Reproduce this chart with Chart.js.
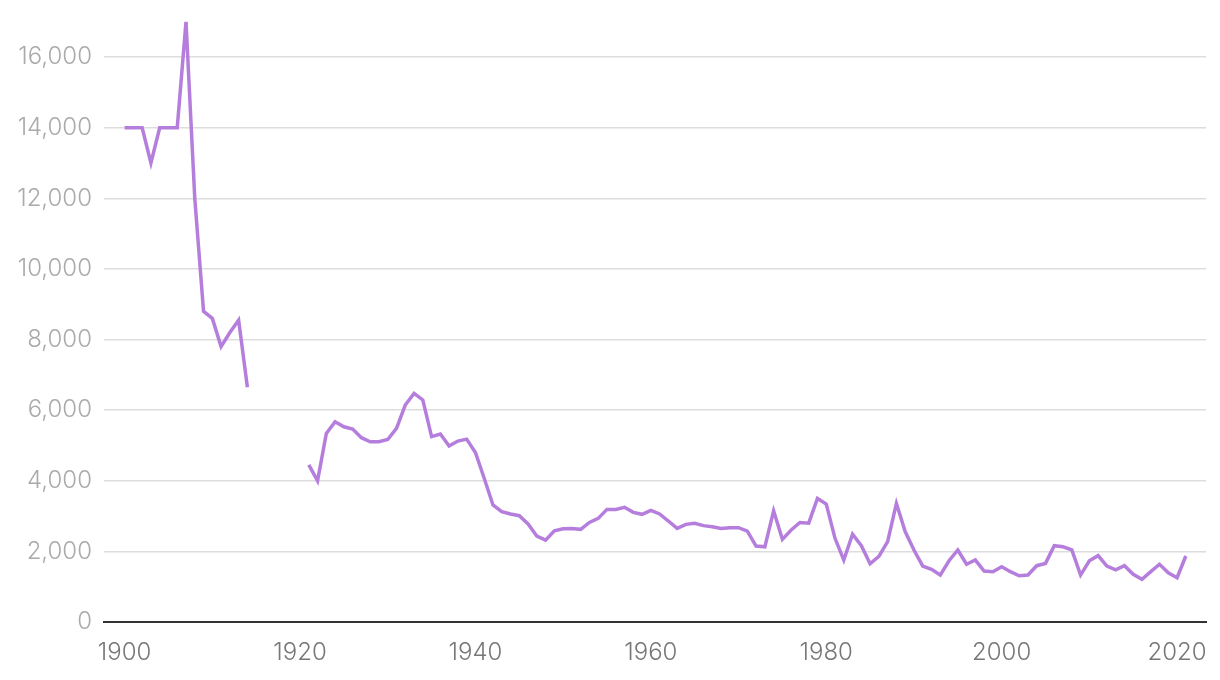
<!DOCTYPE html>
<html>
<head>
<meta charset="utf-8">
<script src="https://cdn.jsdelivr.net/npm/chart.js@4/dist/chart.umd.min.js"></script>
<style>
  html, body { margin: 0; padding: 0; background: #fff; }
  #wrap { width: 1220px; height: 680px; }
</style>
</head>
<body>
<div id="wrap"><canvas id="grafico" width="1220" height="680"></canvas></div>
<script>
// anios y valores (null = sin datos)
var anios1 = [1900, 1901, 1902, 1903, 1904, 1905, 1906, 1907, 1908, 1909, 1910, 1911, 1912, 1913, 1914];
var valores1 = [14000, 14000, 14000, 13000, 14000, 14000, 14000, 17000, 12000, 8800, 8600, 7800, 8200, 8550, 6650];

var aniosHueco = [1915, 1916, 1917, 1918, 1919, 1920];

var anios2 = [];
for (var a = 1921; a <= 2021; a++) anios2.push(a);
var valores2 = [
    4450, 4000, 5340, 5670, 5530, 5465, 5220, 5105, 5105, 5170,   // 1921-1930
    5485, 6145, 6475, 6290, 5250, 5325, 4985, 5125, 5180, 4800,   // 1931-1940
    4070, 3315, 3125, 3060, 3010, 2775, 2435, 2320, 2580, 2640,   // 1941-1950
    2650, 2625, 2820, 2935, 3190, 3190, 3250, 3105, 3050, 3160,   // 1951-1960
    3060, 2860, 2650, 2765, 2795, 2730, 2700, 2650, 2670, 2670,   // 1961-1970
    2575, 2150, 2130, 3150, 2340, 2605, 2820, 2800, 3500, 3340,   // 1971-1980
    2370, 1755, 2490, 2160, 1650, 1860, 2275, 3360, 2560, 2040,   // 1981-1990
    1585, 1490, 1330, 1735, 2040, 1635, 1755, 1445, 1425, 1565,   // 1991-2000
    1425, 1310, 1330, 1595, 1660, 2160, 2130, 2040, 1330, 1735,   // 2001-2010
    1880, 1585, 1475, 1595, 1350, 1210, 1425, 1635, 1395, 1255,   // 2011-2020
    1870                                                          // 2021
];

var ticksX = [1900, 1920, 1940, 1960, 1980, 2000, 2020];
var ticksY = [0, 2000, 4000, 6000, 8000, 10000, 12000, 14000, 16000];

var anios = anios1.concat(aniosHueco, anios2);
var valores = valores1.concat(aniosHueco.map(function () { return null; }), valores2);
var puntos = anios.map(function (x, i) { return { x: x, y: valores[i] }; });

var fuente = { family: 'Inter', size: 24, weight: 300 };

var grafico = new Chart(document.getElementById('grafico').getContext('2d'), {
    type: 'line',
    data: {
        datasets: [{
            data: puntos,
            borderColor: '#b57edc',
            borderWidth: 3.5,
            pointRadius: 0,
            tension: 0,
            spanGaps: false,
            clip: false
        }]
    },
    options: {
        responsive: false,
        animation: false,
        layout: { padding: { top: 6, right: 14, left: 0, bottom: 0 } },
        plugins: { legend: { display: false }, tooltip: { enabled: false } },
        scales: {
            x: {
                type: 'linear',
                min: 1897.65,
                max: 2023.3,
                afterBuildTicks: function (scale) {
                    scale.ticks = ticksX.map(function (v) { return { value: v }; });
                },
                afterFit: function (scale) { scale.height = 58; },
                grid: { display: false },
                border: { display: true, color: '#333333', width: 2 },
                ticks: {
                    color: '#777777',
                    font: fuente,
                    padding: 8,
                    maxRotation: 0,
                    callback: function (v) { return String(v); }
                }
            },
            y: {
                min: 0,
                max: 16870,
                afterBuildTicks: function (scale) {
                    scale.ticks = ticksY.map(function (v) { return { value: v }; });
                },
                afterFit: function (scale) { scale.width = 104; },
                grid: { color: '#dddddd', lineWidth: 1.5, drawTicks: false },
                border: { display: false },
                ticks: {
                    color: '#aaaaaa',
                    font: fuente,
                    padding: 12,
                    callback: function (v) { return v.toLocaleString('en-US'); }
                }
            }
        }
    }
});
</script>
</body>
</html>
